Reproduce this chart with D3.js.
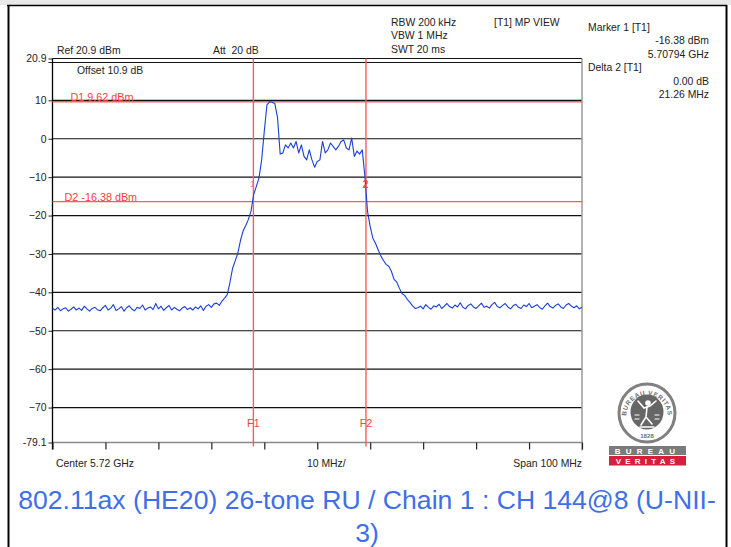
<!DOCTYPE html>
<html><head><meta charset="utf-8">
<script src="https://cdn.jsdelivr.net/npm/d3@7"></script>
<style>
html,body{margin:0;padding:0;background:#fff;}
svg{display:block;font-family:Arial,"Liberation Sans",sans-serif;}
text{white-space:pre;}
</style></head><body>
<svg id="c" width="731" height="547"></svg>
<script>
// Spectrum analyser settings
const centerMHz = 5720, spanMHz = 100, stepMHz = 0.5;
const refLevel = 20.9, bottomLevel = -79.1;
const yTicks = [20.9, 10, 0, -10, -20, -30, -40, -50, -60, -70, -79.1];
const xTicks = d3.range(0, 11).map(i => centerMHz - spanMHz / 2 + i * 10);

// Markers / display lines
const marker1 = { freqGHz: 5.70794, level: -16.38 };
const delta2 = { dB: 0.00, dMHz: 21.26 };
const d1Level = 9.62, d2Level = -16.38;

// Header and footer texts
const infoLeft = ["RBW 200 kHz", "VBW 1 MHz", "SWT 20 ms"];
const infoMid = "[T1] MP VIEW";
const title = ["802.11ax (HE20) 26-tone RU / Chain 1 : CH 144@8 (U-NII-", "3)"];

// Trace levels (dBm), one value every 0.5 MHz from 5670 MHz
const floorLeft = [
 -44.2,-44.6,-43.9,-44.8,-44.3,-44.0,-44.9,-44.4,-43.8,-44.6,
 -44.1,-44.7,-43.6,-44.3,-44.9,-44.2,-43.9,-44.5,-44.8,-44.0,
 -43.4,-44.6,-44.1,-43.2,-44.7,-44.3,-43.7,-44.9,-44.0,-43.5,
 -44.4,-44.8,-43.9,-44.2,-43.3,-44.6,-44.1,-43.8,-44.5,-42.9,
 -44.3,-43.6,-44.7,-44.0,-43.4,-44.6,-43.9,-44.4,-44.8,-44.1,
 -43.7,-44.5,-44.0,-44.6,-43.8,-44.3,-43.5,-44.7,-43.6,-43.2,
 -43.9,-43.0,-42.8,-43.4];
const signalBand = [
 -42.3,-41.5,-40.6,-37.5,-33.8,-31.8,-29.8,-26.5,-24.0,-22.6,
 -21.0,-18.8,-14.5,-12.4,-10.2,-5.5,2.0,8.8,9.62,9.5,
 9.1,5.5,-4.0,-3.7,-1.6,-2.4,-1.1,-2.4,-0.7,-3.7,
 -1.6,-4.6,-5.5,-2.9,-5.5,-7.4,-5.9,-5.5,-0.7,-3.7,
 -2.9,-1.1,-2.0,-2.9,-2.0,-0.7,-0.3,-2.4,-2.9,0.2,
 -4.6,-3.2,-4.0,-2.9,-9.8,-19.0,-22.9,-25.9,-27.2,-28.9,
 -30.5,-31.7,-32.7,-33.2,-34.5,-36.6,-37.3,-38.9,-40.3,-40.8,
 -41.8,-42.6,-43.5,-44.2];
const floorRight = [
 -44.0,-43.6,-44.3,-43.2,-43.9,-44.4,-43.5,-43.8,-43.1,-44.2,
 -43.6,-42.9,-43.7,-44.1,-43.3,-43.8,-42.7,-43.9,-44.3,-43.4,
 -43.0,-43.8,-44.2,-43.5,-42.8,-43.9,-43.6,-44.1,-43.2,-42.6,
 -43.7,-44.0,-43.4,-42.9,-43.8,-44.3,-43.5,-43.1,-43.9,-44.2,
 -43.3,-43.7,-42.9,-44.0,-43.6,-43.2,-43.9,-44.4,-43.5,-42.8,
 -43.7,-44.1,-43.4,-43.0,-43.8,-44.2,-43.3,-42.9,-43.6,-44.0,
 -43.5,-44.3,-43.8];

const levels = floorLeft.concat(signalBand, floorRight);
const startMHz = centerMHz - spanMHz / 2;
const trace = levels.map((v, i) => ({ f: startMHz + i * stepMHz, v }));

const svg = d3.select("#c");
const W = 731, H = 547;
const plot = { left: 52.5, right: 582, top: 58.5, bottom: 442.5 };

const x = d3.scaleLinear().domain([startMHz, startMHz + spanMHz]).range([plot.left, plot.right]);
const y = d3.scaleLinear().domain([bottomLevel, refLevel]).range([plot.bottom, plot.top]);

const txt = "#222", red = "#ff3d3d", redLine = "#ff5c5c", fs = 10.4;

// Window frame
svg.append("rect").attr("x", 0).attr("y", 0).attr("width", W).attr("height", 5).attr("fill", "#e8e8e8");
svg.append("line").attr("x1", 7).attr("x2", 727).attr("y1", 5.5).attr("y2", 5.5).attr("stroke", "#000").attr("stroke-width", 1.5);
svg.append("line").attr("x1", 8.5).attr("x2", 8.5).attr("y1", 5).attr("y2", H).attr("stroke", "#000").attr("stroke-width", 2);
svg.append("line").attr("x1", 726.5).attr("x2", 726.5).attr("y1", 5).attr("y2", H).attr("stroke", "#000").attr("stroke-width", 2);

// Horizontal grid (no vertical grid on this instrument view)
const g = svg.append("g");
g.selectAll("line.grid").data(yTicks.filter(t => t !== refLevel && t !== bottomLevel)).join("line")
  .attr("class", "grid")
  .attr("x1", plot.left).attr("x2", plot.right)
  .attr("y1", d => y(d)).attr("y2", d => y(d))
  .attr("stroke", "#111").attr("stroke-width", 1.2);

// Top frame (double line)
g.append("line").attr("x1", plot.left).attr("x2", plot.right).attr("y1", y(refLevel)).attr("y2", y(refLevel)).attr("stroke", "#111").attr("stroke-width", 1.1);
g.append("line").attr("x1", plot.left).attr("x2", plot.right).attr("y1", y(refLevel) + 4).attr("y2", y(refLevel) + 4).attr("stroke", "#111").attr("stroke-width", 1.1);
// Right frame and bottom line
g.append("line").attr("x1", plot.right).attr("x2", plot.right).attr("y1", plot.top).attr("y2", plot.bottom + 8).attr("stroke", "#9a9a9a").attr("stroke-width", 1.5);
g.append("line").attr("x1", plot.left).attr("x2", plot.right).attr("y1", plot.bottom).attr("y2", plot.bottom).attr("stroke", "#8a8a8a").attr("stroke-width", 1.5);

// Y axis
const yAxis = d3.axisLeft(y).tickValues(yTicks).tickSize(4).tickPadding(2)
  .tickFormat(d => d === refLevel || d === bottomLevel ? d.toFixed(1) : d3.format("d")(d));
const ya = svg.append("g").attr("transform", `translate(${plot.left},0)`).call(yAxis);
ya.select(".domain").remove();
ya.selectAll(".tick line").attr("stroke", "#222");
ya.selectAll(".tick text").attr("fill", txt).attr("font-size", fs).attr("font-family", "Arial, Liberation Sans, sans-serif");
svg.append("line").attr("x1", plot.left - 4).attr("x2", plot.left).attr("y1", y(refLevel) + 4).attr("y2", y(refLevel) + 4).attr("stroke", "#222");
svg.append("line").attr("x1", plot.left).attr("x2", plot.left).attr("y1", plot.top).attr("y2", plot.bottom + 7).attr("stroke", "#000").attr("stroke-width", 1.3);

// X axis ticks
const xAxis = d3.axisBottom(x).tickValues(xTicks).tickSize(7).tickFormat("");
const xa = svg.append("g").attr("transform", `translate(0,${plot.bottom})`).call(xAxis);
xa.select(".domain").remove();
xa.selectAll(".tick line").attr("stroke", "#222").attr("stroke-width", 1.2);

// Display lines D1 / D2
[[d1Level, "D1 9.62 dBm", 70.5], [d2Level, "D2 -16.38 dBm", 64.5]].forEach(([lv, label, tx]) => {
  svg.append("line").attr("x1", plot.left).attr("x2", plot.right).attr("y1", y(lv)).attr("y2", y(lv))
    .attr("stroke", redLine).attr("stroke-width", 1.4);
  svg.append("text").attr("x", tx).attr("y", y(lv) - 0.5).attr("font-size", 10.8).attr("fill", red).text(label);
});

// Frequency lines F1 / F2
const f1 = marker1.freqGHz * 1000, f2 = f1 + delta2.dMHz;
[[f1, "F1"], [f2, "F2"]].forEach(([f, label]) => {
  svg.append("line").attr("x1", x(f)).attr("x2", x(f)).attr("y1", plot.top).attr("y2", plot.bottom + 4)
    .attr("stroke", redLine).attr("stroke-width", 1.4);
  svg.append("text").attr("x", x(f)).attr("y", 427).attr("text-anchor", "middle").attr("font-size", 10.8).attr("fill", red).text(label);
});

// Trace
const line = d3.line().x(d => x(d.f)).y(d => y(d.v));
svg.append("path").datum(trace).attr("d", line).attr("fill", "none")
  .attr("stroke", "#1b3fd6").attr("stroke-width", 1.1).attr("stroke-linejoin", "round");

// Marker labels
svg.append("text").attr("x", x(f1) - 1).attr("y", y(marker1.level) - 15).attr("text-anchor", "middle")
  .attr("font-size", 9).attr("fill", "#ff8080").text("1");
svg.append("text").attr("x", x(f2) - 0.5).attr("y", y(marker1.level + delta2.dB) - 14).attr("text-anchor", "middle")
  .attr("font-size", 10).attr("font-weight", "bold").attr("fill", red).text("2");

// Header texts
const t = (s, xx, yy, anchor) => svg.append("text").attr("x", xx).attr("y", yy)
  .attr("text-anchor", anchor || "start").attr("font-size", fs).attr("fill", txt).text(s);
infoLeft.forEach((s, i) => t(s, 391, 25.5 + i * 13.5));
t(infoMid, 494, 25.5);
t("Marker 1 [T1]", 588, 30.5);
t(`${marker1.level.toFixed(2)} dBm`, 709, 44, "end");
t(`${marker1.freqGHz.toFixed(5)} GHz`, 709, 57.5, "end");
t("Delta 2 [T1]", 588, 71);
t(`${delta2.dB.toFixed(2)} dB`, 709, 84.5, "end");
t(`${delta2.dMHz.toFixed(2)} MHz`, 709, 98, "end");
t(`Ref ${refLevel} dBm`, 57, 54);
t("Att  20 dB", 213, 54);
t("Offset 10.9 dB", 77, 74);
t(`Center ${(centerMHz / 1000).toFixed(2)} GHz`, 56, 467);
t("10 MHz/", 307, 467);
t(`Span ${spanMHz} MHz`, plot.right, 467, "end");

// Certification badge
const lg = svg.append("g").attr("transform", "translate(647,413)");
lg.append("ellipse").attr("rx", 28).attr("ry", 29).attr("fill", "#fff").attr("stroke", "#808080").attr("stroke-width", 3);
lg.append("path").attr("id", "arcTop").attr("d", "M -21 4 A 21 22 0 0 1 21 4").attr("fill", "none");
lg.append("text").attr("font-size", 6.4).attr("font-weight", "bold").attr("fill", "#6f6f6f")
  .append("textPath").attr("href", "#arcTop").attr("startOffset", "50%").attr("text-anchor", "middle")
  .attr("letter-spacing", 0.6).text("BUREAU VERITAS");
lg.append("ellipse").attr("cy", -1).attr("rx", 16.5).attr("ry", 17.5).attr("fill", "#666");
lg.append("text").attr("y", 25).attr("text-anchor", "middle").attr("font-size", 6.2).attr("font-weight", "bold").attr("fill", "#6f6f6f").text("1828");
const fig = lg.append("g").attr("stroke", "#fff").attr("stroke-width", 1.6).attr("fill", "none").attr("stroke-linecap", "round");
fig.append("path").attr("d", "M -9 -12 L -3 -5 L 3 -7 L 9 -12");
fig.append("path").attr("d", "M 0 -6 L -1 4 L -6 12 M -1 4 L 5 11");
fig.append("circle").attr("cx", 1).attr("cy", -10).attr("r", 2).attr("fill", "#fff");
fig.append("path").attr("d", "M -12 2 L -8 2 M -12 6 L -8 6 M 8 2 L 12 2 M 8 6 L 12 6").attr("stroke-width", 1.2);
fig.append("path").attr("d", "M -7 14 L 7 14").attr("stroke-width", 1.4);

svg.append("rect").attr("x", 609).attr("y", 446).attr("width", 77).attr("height", 9).attr("fill", "#7b7b7b");
svg.append("rect").attr("x", 609).attr("y", 456).attr("width", 77).attr("height", 9.5).attr("fill", "#d4203c");
svg.append("text").attr("x", 647.5).attr("y", 454).attr("text-anchor", "middle").attr("font-size", 8).attr("font-weight", "bold")
  .attr("fill", "#fff").attr("letter-spacing", 5.2).text("BUREAU");
svg.append("text").attr("x", 647.5).attr("y", 464).attr("text-anchor", "middle").attr("font-size", 8).attr("font-weight", "bold")
  .attr("fill", "#fff").attr("letter-spacing", 4.2).text("VERITAS");

// Caption
title.forEach((s, i) => svg.append("text").attr("x", 367).attr("y", 509 + i * 33).attr("text-anchor", "middle")
  .attr("font-size", 26.6).attr("fill", "#3f6fe8").text(s));
</script></body></html>
